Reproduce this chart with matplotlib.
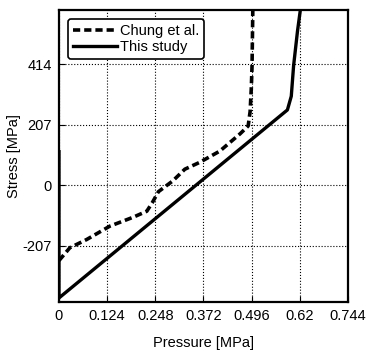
import matplotlib
matplotlib.use("Agg")
import matplotlib.pyplot as plt

plt.rcParams['font.family'] = ['Liberation Sans Narrow', 'Liberation Sans', 'DejaVu Sans']
plt.rcParams['axes.unicode_minus'] = False

# Chung et al. (dashed)
chung_p = [0.0, 0.028, 0.071, 0.131, 0.190, 0.226, 0.240, 0.256, 0.293, 0.324, 0.363, 0.414, 0.466, 0.487, 0.492, 0.495, 0.497, 0.499]
chung_s = [-258, -214, -186, -140, -110, -89, -60, -22, 15, 55, 79, 117, 176, 203, 252, 330, 410, 607]

# This study (solid)
study_p = [0.0, 0.0, 0.588, 0.598, 0.604, 0.614, 0.622]
study_s = [115, -386, 258, 305, 410, 528, 607]

xticks = [0, 0.124, 0.248, 0.372, 0.496, 0.62, 0.744]
xticklabels = ['0', '0.124', '0.248', '0.372', '0.496', '0.62', '0.744']
yticks = [-207, 0, 207, 414]

fig = plt.figure(figsize=(3.71, 3.6), dpi=100)
ax = fig.add_axes([0.159, 0.161, 0.779, 0.811])

ax.plot(chung_p, chung_s, 'k--', lw=2.6, dashes=(2.0, 1.1), label='Chung et al.')
ax.plot(study_p, study_s, 'k-', lw=2.4, label='This study')

ax.set_xlim(0, 0.744)
ax.set_ylim(-400, 600)
ax.set_xticks(xticks)
ax.set_xticklabels(xticklabels)
ax.set_yticks(yticks)
ax.tick_params(direction='in', length=4, labelsize=10.5, pad=5)
ax.grid(True, color='k', linestyle=':', linewidth=0.8)
for sp in ax.spines.values():
    sp.set_linewidth(1.6)

ax.set_xlabel('Pressure [MPa]', fontsize=10.5)
ax.set_ylabel('Stress [MPa]', fontsize=10.5)
ax.yaxis.set_label_coords(-0.13, 0.5)
ax.xaxis.set_label_coords(0.5, -0.115)

leg = ax.legend(loc='upper left', fontsize=10.5, fancybox=True, framealpha=1,
                edgecolor='k', handlelength=3.0, handletextpad=0.2,
                borderpad=0.35, labelspacing=0.15, borderaxespad=0.6)
leg.get_frame().set_linewidth(1.2)

fig.savefig('out.png', dpi=100)
